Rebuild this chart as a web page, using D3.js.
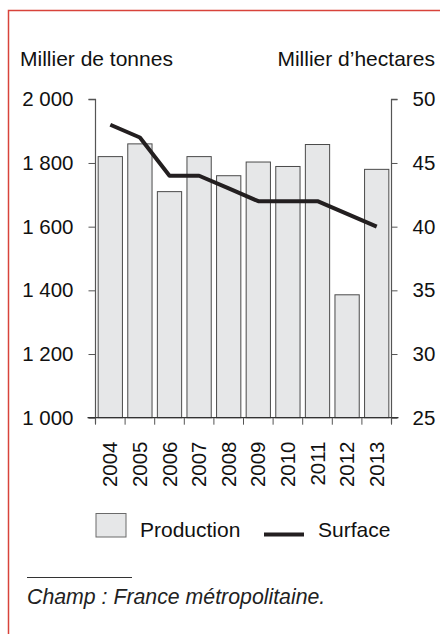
<!DOCTYPE html>
<html><head><meta charset="utf-8">
<script src="https://cdn.jsdelivr.net/npm/d3@7"></script>
<style>
html,body{margin:0;padding:0;background:#fff;}
svg{display:block;font-family:"Liberation Sans",Arial,sans-serif;}
</style></head>
<body><svg id="c" width="440" height="634"></svg>
<script>
const years = ["2004","2005","2006","2007","2008","2009","2010","2011","2012","2013"];
const production = [1820,1860,1710,1820,1760,1803,1789,1858,1386,1780];
const surface = [48,47,44,44,43,42,42,42,41,40];
const leftTicks = [1000,1200,1400,1600,1800,2000];
const leftTickLabels = ["1 000","1 200","1 400","1 600","1 800","2 000"];
const rightTicks = [25,30,35,40,45,50];
const rightTickLabels = ["25","30","35","40","45","50"];
const leftTitle = "Millier de tonnes";
const rightTitle = "Millier d\u2019hectares";
const legendLabels = ["Production","Surface"];
const footnote = "Champ : France métropolitaine.";

const svg = d3.select("#c");
const ink = "#111";

// frame
svg.append("path").attr("d","M8.5,634 V10.5 H440").attr("fill","none")
  .attr("stroke","#d8433b").attr("stroke-width",1.5);

const x0 = 95.5, x1 = 391.5, yTop = 99.3, yBot = 417.7;
const x = d3.scaleBand().domain(years).range([x0,x1]).paddingInner(0.18).paddingOuter(0.09);
const yL = d3.scaleLinear().domain([1000,2000]).range([yBot,yTop]);
const yR = d3.scaleLinear().domain([25,50]).range([yBot,yTop]);

// bars
svg.append("g").selectAll("rect").data(years).join("rect")
  .attr("x",d=>x(d)).attr("width",x.bandwidth())
  .attr("y",(d,i)=>yL(production[i])).attr("height",(d,i)=>yBot-yL(production[i]))
  .attr("fill","#e6e7e8").attr("stroke","#4a4a4a").attr("stroke-width",1);

// left axis
const gl = svg.append("g").attr("transform",`translate(${x0},0)`)
  .call(d3.axisLeft(yL).tickValues(leftTicks).tickFormat((d,i)=>leftTickLabels[i]).tickSize(7).tickPadding(15));
// right axis
const gr = svg.append("g").attr("transform",`translate(${x1},0)`)
  .call(d3.axisRight(yR).tickValues(rightTicks).tickFormat((d,i)=>rightTickLabels[i]).tickSize(6).tickPadding(15));
[gl,gr].forEach(g=>{
  g.select(".domain").attr("stroke","#555").attr("stroke-width",1.2);
  g.selectAll(".tick line").attr("stroke","#555");
  g.selectAll(".tick text").attr("font-size",20.5).attr("fill",ink)
    .attr("font-family","'Liberation Sans',Arial,sans-serif");
});
gl.select(".domain").attr("d",`M-7,${yTop}H0V${yBot+6}`);
gr.select(".domain").attr("d",`M6,${yTop}H0V${yBot+6}`);

// bottom axis baseline & edge ticks
const step = x.step();
const edges = years.map(d=>x(d)-step*x.paddingInner()/2).concat([x1]);
svg.append("line").attr("x1",x0-8).attr("x2",x1+7).attr("y1",yBot).attr("y2",yBot)
  .attr("stroke","#333").attr("stroke-width",1.2);
svg.append("g").selectAll("line").data(edges).join("line")
  .attr("x1",d=>d).attr("x2",d=>d).attr("y1",yBot).attr("y2",yBot+7)
  .attr("stroke","#555").attr("stroke-width",1);
svg.append("g").selectAll("text").data(years).join("text")
  .attr("transform",d=>`translate(${x(d)+x.bandwidth()/2},441.5) rotate(-90)`)
  .attr("text-anchor","end").attr("dy","0.35em").attr("font-size",20.5).attr("fill",ink)
  .text(d=>d);

// line
const line = d3.line().x((d,i)=>x(years[i])+x.bandwidth()/2).y(d=>yR(d));
svg.append("path").datum(surface).attr("d",line).attr("fill","none")
  .attr("stroke","#231f20").attr("stroke-width",4).attr("stroke-linejoin","round");

// titles
svg.append("text").attr("x",20).attr("y",66).attr("font-size",21).attr("fill",ink).text(leftTitle);
svg.append("text").attr("x",435).attr("y",66).attr("text-anchor","end").attr("font-size",21).attr("fill",ink).text(rightTitle);

// legend
svg.append("rect").attr("x",96).attr("y",513.5).attr("width",30).attr("height",23.5)
  .attr("fill","#e6e7e8").attr("stroke","#6a6a6a").attr("stroke-width",1);
svg.append("text").attr("x",140).attr("y",537).attr("font-size",21).attr("fill",ink).text(legendLabels[0]);
svg.append("line").attr("x1",264).attr("x2",304).attr("y1",534.5).attr("y2",534.5)
  .attr("stroke","#231f20").attr("stroke-width",4);
svg.append("text").attr("x",318).attr("y",537).attr("font-size",21).attr("fill",ink).text(legendLabels[1]);

// footnote
svg.append("line").attr("x1",27).attr("x2",132).attr("y1",577.5).attr("y2",577.5)
  .attr("stroke","#333").attr("stroke-width",1);
svg.append("text").attr("x",27).attr("y",604).attr("font-size",21.3).attr("font-style","italic")
  .attr("fill","#222").text(footnote);
</script></body></html>
